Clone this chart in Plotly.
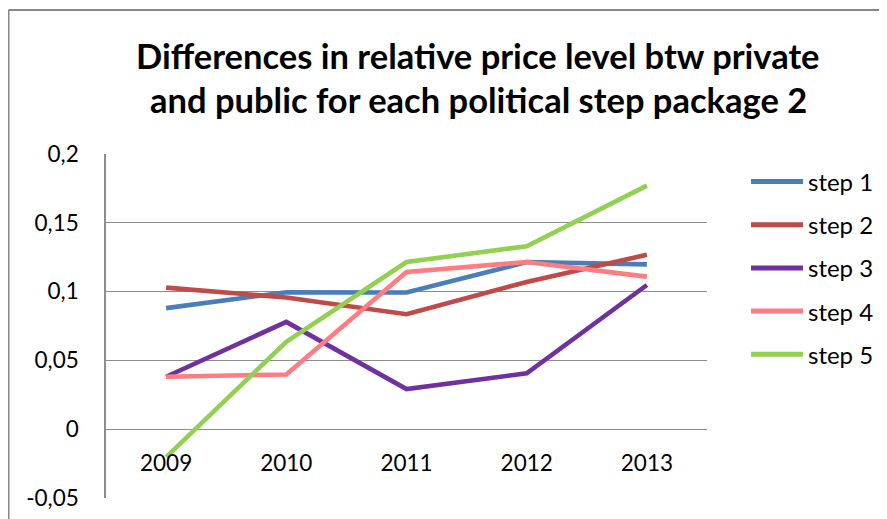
import plotly.graph_objects as go

years = ["2009", "2010", "2011", "2012", "2013"]
step1 = [0.088, 0.0995, 0.0993, 0.1215, 0.1198]
step2 = [0.1029, 0.0957, 0.0836, 0.107, 0.1268]
step3 = [0.0381, 0.078, 0.0292, 0.0406, 0.1048]
step4 = [0.0381, 0.0398, 0.1142, 0.1215, 0.1109]
step5 = [-0.0203, 0.0635, 0.1215, 0.133, 0.177]
series_names = ["step 1", "step 2", "step 3", "step 4", "step 5"]
colors = ["#4A7EBB", "#BE4B48", "#7030A0", "#FF7C80", "#92D050"]
ytick_vals = [-0.05, 0, 0.05, 0.1, 0.15, 0.2]
ytick_text = ["-0,05", "0", "0,05", "0,1", "0,15", "0,2"]
title_lines = ["Differences in relative price level btw private",
               "and public for each political step package 2"]

FONT = "Lato, 'Open Sans', sans-serif"
W, H = 887, 519
OFF = 8  # page body margin offset
# plot area in screen pixels: x 106..707, y 154.3..498.3
L = 106 - OFF
R = W - (707 - OFF)
T = 154 - OFF
B = H - (498 - OFF)
PW, PH = W - L - R, H - T - B


def px_x(p):
    return (p - OFF - L) / PW


def px_y(p):
    return (H - B - (p - OFF)) / PH


fig = go.Figure()
for name, vals, col in zip(series_names, [step1, step2, step3, step4, step5], colors):
    fig.add_trace(go.Scatter(x=years, y=vals, mode="lines", name=name,
                             line=dict(color=col, width=4.6), showlegend=False))

shapes = []
annotations = []
# custom legend
leg_top, leg_gap = 181.5, 43.2
for i, (name, col) in enumerate(zip(series_names, colors)):
    yy = px_y(leg_top + i * leg_gap)
    shapes.append(dict(type="line", xref="paper", yref="paper",
                       x0=px_x(751), x1=px_x(803), y0=yy, y1=yy,
                       line=dict(color=col, width=5)))
    annotations.append(dict(text=name, xref="paper", yref="paper", x=px_x(806), y=yy,
                            xanchor="left", yanchor="middle", showarrow=False,
                            font=dict(family=FONT, size=24, color="black")))
# title
for line, yc in zip(title_lines, [56, 100]):
    annotations.append(dict(text="<b>" + line + "</b>", xref="paper", yref="paper",
                            x=px_x(478), y=px_y(yc), xanchor="center", yanchor="middle",
                            showarrow=False, font=dict(family=FONT, size=34.5, color="black")))
# chart border (left and top)
bx, by = px_x(8.5), px_y(10)
shapes.append(dict(type="line", xref="paper", yref="paper", x0=bx, x1=bx, y0=-0.3, y1=by,
                   line=dict(color="#868686", width=2)))
shapes.append(dict(type="line", xref="paper", yref="paper", x0=bx, x1=1.5, y0=by, y1=by,
                   line=dict(color="#868686", width=2)))

fig.update_layout(
    width=W, height=H, autosize=False,
    margin=dict(l=L, r=R, t=T, b=B, pad=0),
    paper_bgcolor="white", plot_bgcolor="white",
    font=dict(family=FONT, size=22, color="black"),
    shapes=shapes, annotations=annotations,
    xaxis=dict(type="category", range=[-0.5, 4.5], showgrid=False, showline=False,
               zeroline=False, ticks="", anchor="free", position=0.2,
               ticklabelstandoff=18, tickfont=dict(size=22.5)),
    yaxis=dict(range=[-0.05, 0.2], tickvals=ytick_vals, ticktext=ytick_text,
               showgrid=True, gridcolor="#8C8C8C", gridwidth=1, zeroline=False,
               showline=True, linecolor="#8C8C8C", linewidth=1.5, ticks="",
               ticklabelstandoff=21, tickfont=dict(size=22.5)),
)

fig.write_html("out.html")
